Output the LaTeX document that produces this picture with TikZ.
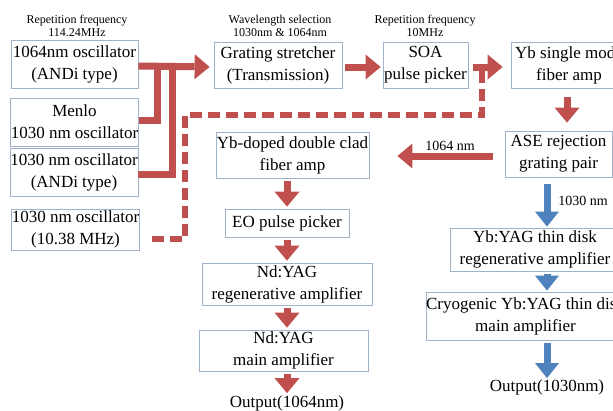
\documentclass[tikz,border=0pt]{standalone}
\usepackage{fontspec}
\setmainfont{Liberation Serif}
\usetikzlibrary{arrows.meta}
\definecolor{redarr}{RGB}{192,80,77}
\definecolor{bluearr}{RGB}{79,129,189}
\definecolor{boxline}{RGB}{160,178,202}

\begin{document}
\begin{tikzpicture}[x=1pt, y=-1pt,
    main/.style = {draw=boxline, line width=0.8pt, fill=white, align=center, inner sep=0pt,
                   font=\fontsize{17}{22}\selectfont},
    note/.style = {align=center, inner sep=0pt, font=\fontsize{12}{13}\selectfont},
    nm/.style = {inner sep=0pt, font=\fontsize{14}{16}\selectfont},
    outtext/.style = {inner sep=0pt, font=\fontsize{17}{20}\selectfont},
    bus/.style = {draw=redarr, line width=7pt},
    dashbus/.style = {draw=redarr, line width=6pt, dash pattern=on 12pt off 6pt},
    redarrow/.style = {draw=redarr, line width=7pt, shorten <=3pt, shorten >=2pt,
                       -{Triangle[width=25pt,length=15pt,line width=0pt]}},
    bluearrow/.style = {draw=bluearr, line width=7pt, shorten <=3pt, shorten >=1pt,
                        -{Triangle[width=24pt,length=15pt,line width=0pt]}}]
  \clip (0,0) rectangle (613,410);
  %
  \node[note] (rep1) at (77,26) {Repetition frequency\\114.24MHz};
  \node[note] (wave) at (280,26) {Wavelength selection\\1030nm \& 1064nm};
  \node[note] (rep2) at (425,26) {Repetition frequency\\10MHz};
  %
  \node[main, minimum width=127, minimum height=48] (osc1064) at (74.5,64) {1064nm oscillator\\(ANDi type)};
  \node[main, minimum width=127, minimum height=48] (menlo) at (74.5,122) {Menlo\\1030 nm oscillator};
  \node[main, minimum width=128, minimum height=48] (osc1030) at (74,172) {1030 nm oscillator\\(ANDi type)};
  \node[main, minimum width=125, minimum height=41] (osc1038) at (75.5,229.5) {1030 nm oscillator\\(10.38 MHz)};
  %
  \node[main, minimum width=128, minimum height=46] (stretcher) at (278,65) {Grating stretcher\\(Transmission)};
  \node[main, minimum width=85, minimum height=46] (soa) at (425.5,65) {SOA\\pulse picker};
  \node[main, minimum width=116, minimum height=46] (ybsm) at (569,65) {Yb single mode\\fiber amp};
  \node[main, minimum width=107, minimum height=46] (ase) at (558.5,154) {ASE rejection\\grating pair};
  %
  \node[main, minimum width=153, minimum height=46] (ybdc) at (292.5,155) {Yb-doped double clad\\fiber amp};
  \node[main, minimum width=124, minimum height=28] (eo) at (287,223) {EO pulse picker};
  \node[main, minimum width=170, minimum height=42] (ndregen) at (287,284) {Nd:YAG\\regenerative amplifier};
  \node[main, minimum width=169, minimum height=41] (ndmain) at (283.5,350.5) {Nd:YAG\\main amplifier};
  \node[outtext] (out1064) at (287,403) {Output(1064nm)};
  %
  \node[main, minimum width=170, minimum height=43] (ybregen) at (535,249.5) {Yb:YAG thin disk\\regenerative amplifier};
  \node[main, minimum width=195, minimum height=48] (cryo) at (525.5,316) {Cryogenic Yb:YAG thin disk\\main amplifier};
  \node[outtext] (out1030) at (547,387) {Output(1030nm)};
  %
  \coordinate (j1) at (157,67);
  \coordinate (j2) at (172,67);
  \coordinate (d1) at (185,115);
  \coordinate (d2) at (482,71);
  %
  \draw[bus] ([yshift=2pt]menlo.east) -| (j1);
  \draw[bus] ([yshift=-2pt]osc1030.east) -| (j2);
  \draw[dashbus, shorten <=12pt] ([yshift=-9.5pt]osc1038.east) -| (d1) -| (d2);
  \draw[redarrow, shorten <=0pt, shorten >=4pt] ([yshift=-2pt]osc1064.east) -- ([yshift=-2pt]stretcher.west);
  \draw[redarrow] ([yshift=-2pt]stretcher.east) -- ([yshift=-2pt]soa.west);
  \draw[redarrow, shorten <=5pt, shorten >=8pt] ([yshift=-2pt]soa.east) -- ([yshift=-2pt]ybsm.west);
  \draw[redarrow, shorten <=9pt, shorten >=8pt] ([xshift=-2pt]ybsm.south) -- ([xshift=-2pt]ybsm.south |- ase.north);
  \draw[redarrow, shorten <=12pt, shorten >=28pt] ([yshift=-2pt]ase.west) -- ([yshift=-2pt]ase.west -| ybdc.east);
  \node[nm] (l1064) at (450,146) {1064 nm};
  %
  \draw[redarrow] (ybdc.south -| eo) -- (eo);
  \draw[redarrow] (eo) -- (ndregen);
  \draw[redarrow] (ndregen) -- (ndregen.south |- ndmain.north);
  \draw[redarrow] (ndmain.south -| out1064) -- (out1064);
  %
  \draw[bluearrow, shorten <=7pt] (ase.south -| out1030) -- (ybregen.north -| out1030);
  \draw[bluearrow] (ybregen.south -| out1030) -- (cryo.north -| out1030);
  \draw[bluearrow] (cryo.south -| out1030) -- (out1030);
  \node[nm] (l1030) at (583,201) {1030 nm};
\end{tikzpicture}
\end{document}
